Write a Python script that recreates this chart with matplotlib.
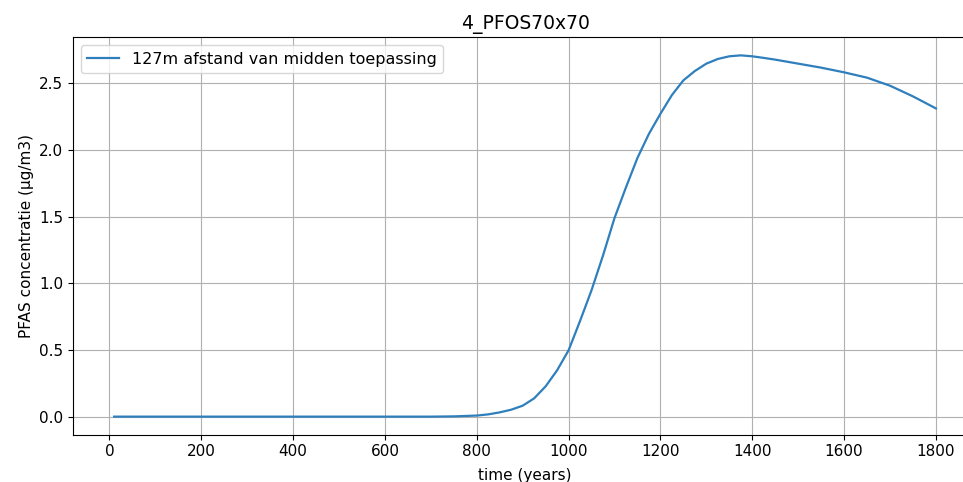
import matplotlib
matplotlib.use('Agg')
import matplotlib.pyplot as plt

plt.rcParams['font.family'] = ['DejaVu Sans']

# tijd (jaren) en concentratie op 127m afstand
jaren = [10, 100, 200, 300, 400, 500, 600, 700, 750, 800, 825, 850, 875, 900,
         925, 950, 975, 1000, 1025, 1050, 1075, 1100, 1125, 1150, 1175, 1200,
         1225, 1250, 1275, 1300, 1325, 1350, 1375, 1400, 1425, 1450, 1500,
         1550, 1600, 1650, 1700, 1750, 1800]
conc = [0.003, 0.003, 0.003, 0.003, 0.003, 0.003, 0.003, 0.003, 0.005, 0.011,
        0.02, 0.035, 0.055, 0.085, 0.14, 0.23, 0.35, 0.50, 0.72, 0.95, 1.21,
        1.49, 1.72, 1.94, 2.12, 2.27, 2.41, 2.52, 2.59, 2.645, 2.68, 2.70,
        2.707, 2.70, 2.688, 2.675, 2.645, 2.615, 2.58, 2.54, 2.48, 2.40, 2.31]

fig = plt.figure(figsize=(9.63, 4.82), dpi=100)
ax = fig.add_axes([73/963, 1 - 434.7/482, (977 - 73)/963, (434.7 - 37.3)/482])

ax.plot(jaren, conc, label='127m afstand van midden toepassing', lw=1.6,
        color='#2f7fbd')
ax.set_title('4_PFOS70x70', fontsize=13.5)
ax.set_xlabel('time (years)', fontsize=11, labelpad=6)
ax.set_ylabel('PFAS concentratie (µg/m3)', fontsize=11)
ax.set_xticks(range(0, 1801, 200))
ax.tick_params(labelsize=11)
ax.spines['right'].set_visible(False)
ax.grid(True)
ax.legend(loc='upper left', fontsize=11.5)

fig.savefig('out.png', dpi=100)
